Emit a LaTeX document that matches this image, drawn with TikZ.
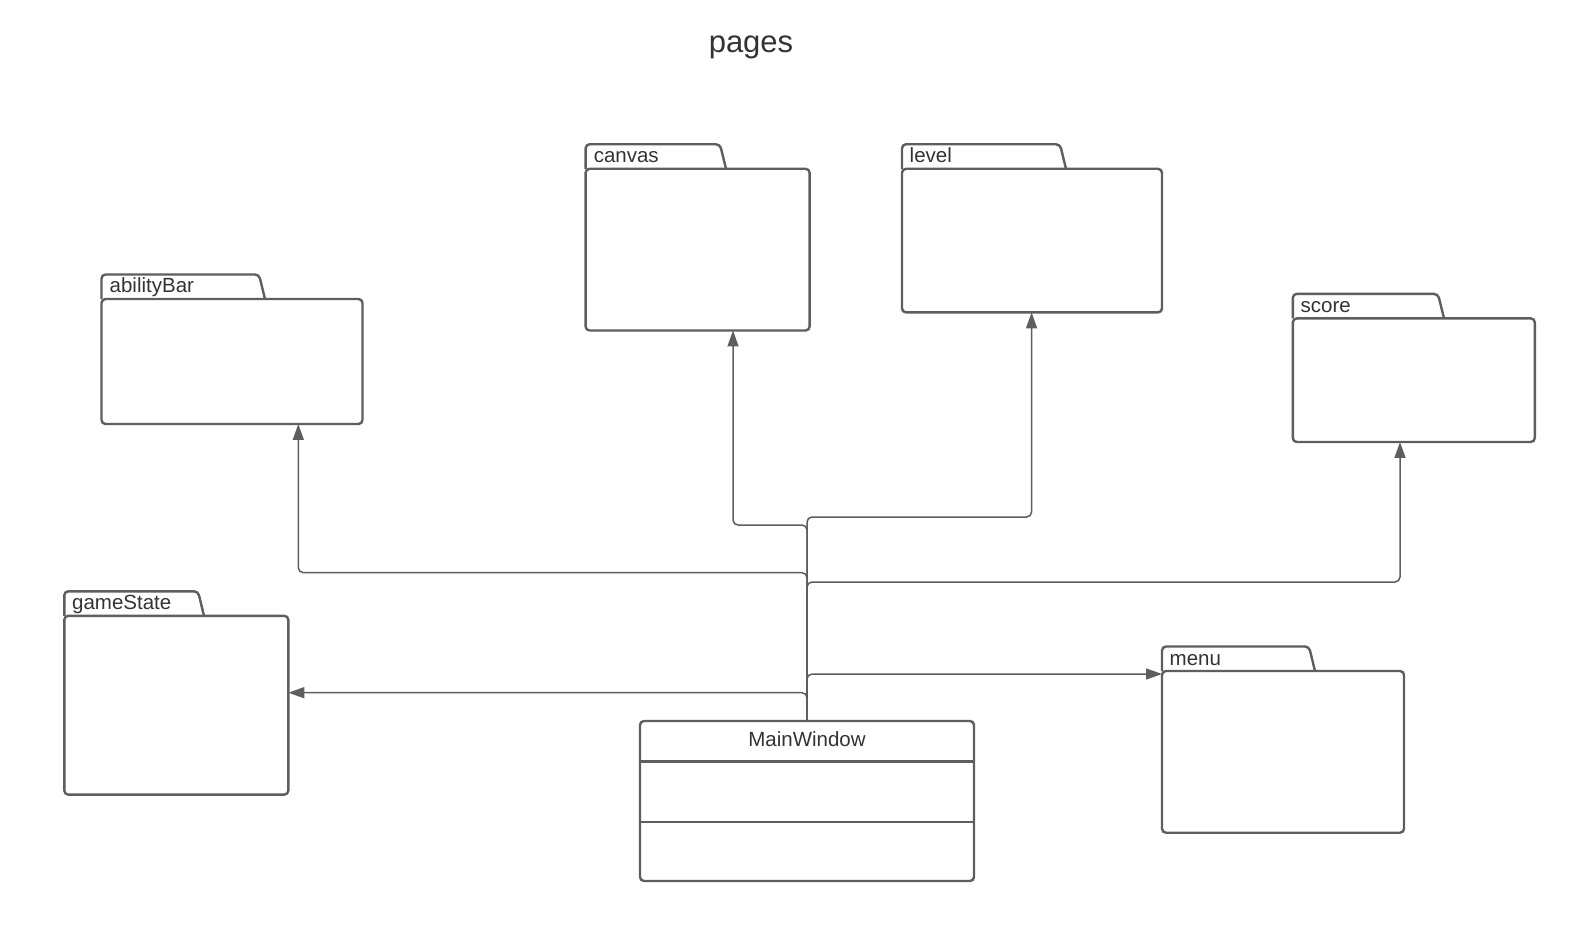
\documentclass[tikz,border=0pt]{standalone}
\usepackage{fontspec}
\setmainfont{Liberation Sans}
\usetikzlibrary{arrows.meta,calc}
\definecolor{ln}{HTML}{5E5E5E}
\definecolor{tx}{HTML}{333333}
\tikzset{
  box/.style={draw=ln, line width=2.4pt, rounded corners=4pt},
  pkgbody/.style={box, rectangle, inner sep=0pt, outer sep=0pt, anchor=north west},
  conn/.style={draw=ln, line width=1.5pt, rounded corners=5pt, -{Triangle[length=16pt,width=11pt]}},
  lbl/.style={text=tx, font=\fontsize{20.5}{24}\selectfont, inner sep=0pt},
}
\newcommand\pkgtab[2]{\draw[box] (#1.north west) -- ++(0,-24.5) -- ++(#2,0) -- ++(6,24.5);}
\begin{document}
\begin{tikzpicture}[x=1pt,y=-1pt]
\useasboundingbox (0,0) rectangle (1575,949);
% title
\node[lbl, font=\fontsize{31}{36}\selectfont, anchor=base] (title) at (751,53) {pages};
% packages
\node[pkgbody, minimum width=261pt, minimum height=125pt] (ability) at (101.5,299) {};
\pkgtab{ability}{157.5}
\node[lbl, anchor=base west] (abilityL) at (109.5,293) {abilityBar};

\node[pkgbody, minimum width=224pt, minimum height=161.7pt] (canvas) at (585.6,168.8) {};
\pkgtab{canvas}{134.4}
\node[lbl, anchor=base west] (canvasL) at (593.6,162.8) {canvas};

\node[pkgbody, minimum width=260pt, minimum height=143.6pt] (level) at (902,168.8) {};
\pkgtab{level}{158}
\node[lbl, anchor=base west] (levelL) at (909.5,162.8) {level};

\node[pkgbody, minimum width=242pt, minimum height=123.6pt] (score) at (1292.8,318.4) {};
\pkgtab{score}{145.2}
\node[lbl, anchor=base west] (scoreL) at (1300.5,312.4) {score};

\node[pkgbody, minimum width=224pt, minimum height=178.8pt] (game) at (64.3,615.8) {};
\pkgtab{game}{133.7}
\node[lbl, anchor=base west] (gameL) at (72,609.8) {gameState};

\node[pkgbody, minimum width=242pt, minimum height=161.7pt] (menu) at (1162,671) {};
\pkgtab{menu}{147}
\node[lbl, anchor=base west] (menuL) at (1169.5,665) {menu};

% MainWindow class
\node[pkgbody, minimum width=334pt, minimum height=160pt] (mw) at (640,721) {};
\draw[draw=ln, line width=2.4pt] (mw.west |- 0,761.4) -- (mw.east |- 0,761.4);
\draw[draw=ln, line width=2.4pt] (mw.west |- 0,821.7) -- (mw.east |- 0,821.7);
\node[lbl, anchor=base] (mwL) at (807,746) {MainWindow};

% bend coordinates
\coordinate (kc) at (733,525);
\coordinate (kl) at (1031.6,517);
\coordinate (ka) at (298.3,572.7);
\coordinate (ks) at (1400,582);
\coordinate (km) at (0,674);
\coordinate (kg) at (0,692.7);

% connectors
\draw[conn] (mw.north) |- (kc) -- (canvas.south -| kc);
\draw[conn] (mw.north) |- (kl) -- (level.south -| kl);
\draw[conn] (mw.north) |- (ka) -- (ability.south -| ka);
\draw[conn] (mw.north) |- (ks) -- (score.south -| ks);
\draw[conn] (mw.north) |- (menu.west |- km);
\draw[conn] (mw.north) |- (game.east |- kg);
\end{tikzpicture}
\end{document}
